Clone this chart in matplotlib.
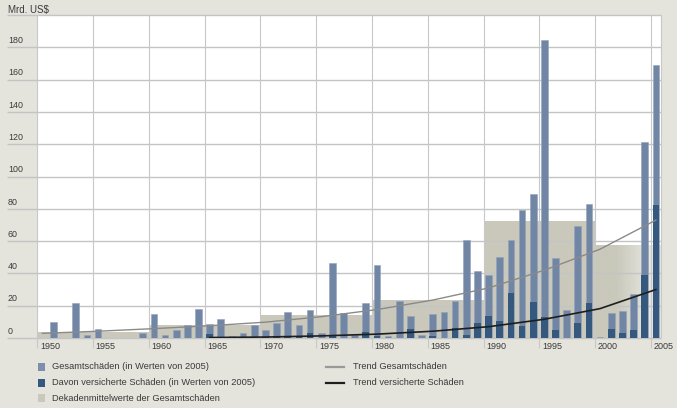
import numpy as np
import matplotlib.pyplot as plt
from matplotlib.patches import Rectangle
from matplotlib.lines import Line2D

plt.rcParams['font.family'] = ['Liberation Sans', 'DejaVu Sans']

# Daten (Mrd. US$, in Werten von 2005)
jahre = list(range(1950, 2006))
gesamt = [0, 10.1, 0, 21.9, 2.1, 5.4, 0, 0, 0, 3.3,
          14.9, 2.1, 4.8, 7.9, 18.0, 8.7, 11.6, 1.4, 3.3, 7.9,
          5.0, 9.3, 16.4, 8.1, 17.4, 2.9, 46.4, 15.3, 1.7, 21.9,
          45.5, 1.2, 23.2, 13.5, 2.1, 14.9, 16.1, 23.0, 60.4, 41.6,
          39.1, 50.3, 60.9, 79.5, 89.4, 184.5, 49.5, 17.6, 69.1, 83.0,
          0.8, 15.7, 16.8, 27.5, 121.3, 169.0]
versichert = [0, 0, 0, 0, 0, 0, 0, 0, 0, 0,
              0, 0, 0, 0, 0, 2.7, 0.5, 0, 0, 0,
              0.5, 0.5, 0.5, 0.5, 2.9, 0, 1.0, 0, 0, 3.9,
              1.0, 0, 0, 5.4, 0, 1.5, 0, 6.0, 1.9, 9.3,
              13.5, 10.8, 27.7, 7.6, 22.6, 13.3, 4.8, 0, 9.1, 21.7,
              0.3, 5.8, 3.1, 5.2, 39.1, 82.2]

dekaden = [1950, 1960, 1970, 1980, 1990]
dekaden_mittel = [3.9, 7.8, 14.3, 23.6, 72.4]
mittel_2000 = 57.1

trend_jahre = [1950, 1955, 1960, 1965, 1970, 1975, 1980, 1985, 1990, 1995, 2000, 2005]
trend_gesamt = [2.9, 4.2, 5.8, 7.6, 9.8, 13.2, 17.6, 23.5, 31.0, 42.0, 55.0, 73.0]
trend_vers_jahre = [1965, 1970, 1975, 1980, 1985, 1990, 1995, 2000, 2005]
trend_vers = [0.3, 0.6, 1.3, 2.4, 4.2, 7.0, 11.6, 18.2, 30.0]

y_ticks = [0, 20, 40, 60, 80, 100, 120, 140, 160, 180]
x_ticks = list(range(1950, 2006, 5))

hintergrund = "#e4e3dc"
hell = "#7186a5"
dunkel = "#34587e"
band = "#c9c8bb"
text_farbe = "#3a3a3a"
raster = "#c4c4c4"

W, H = 677, 408


def px(x, y):
    return x / W, 1 - y / H


fig = plt.figure(figsize=(W / 100, H / 100), dpi=100, facecolor=hintergrund)
ax = fig.add_axes([37.3 / W, 1 - 338 / H, (661 - 37.3) / W, (338 - 15) / H])
ax.set_facecolor("white")
x0, x1 = 1950.0, 2005.91
ax.set_xlim(x0, x1)
ax.set_ylim(0, 200)
for s in ax.spines.values():
    s.set_visible(False)
ax.set_xticks([])
ax.set_yticks([])

off = 0.45
pos = np.array(jahre) + off

# Dekadenmittel
ax.bar(dekaden, dekaden_mittel, width=10, align='edge', color=band, zorder=1, linewidth=0)
# 2000er mit Verlauf nach rechts
verlauf_x = np.linspace(2000, x1, 200)
c0 = np.array([0xc9, 0xc8, 0xbb]) / 255
c1 = np.array([0xe6, 0xe5, 0xdf]) / 255
t = np.clip((verlauf_x - 2001.9) / (2004.8 - 2001.9), 0, 1)
img = c0[None, :] * (1 - t[:, None]) + c1[None, :] * t[:, None]
ax.imshow(img[None, :, :], extent=[2000, x1, 0, mittel_2000], aspect='auto', zorder=1,
          interpolation='bilinear')
ax.set_xlim(x0, x1)
ax.set_ylim(0, 200)

# Raster
ax.hlines(y_ticks + [200], -0.0486, 1, transform=ax.get_yaxis_transform(),
          colors=raster, linewidth=1.0, clip_on=False, zorder=1.5)
ax.vlines(x_ticks, -6.5, 200, colors="#c8c8c8", linewidth=0.8, clip_on=False, zorder=1.5)
ax.vlines([x1], 0, 200, colors="#c8c8c8", linewidth=0.8, clip_on=False, zorder=1.5)

for v in y_ticks:
    ax.text(-0.047, v + 1.4, str(v), transform=ax.get_yaxis_transform(),
            ha='left', va='bottom', fontsize=6.4, color=text_farbe)
for j in x_ticks:
    ax.text(j + 0.24, -2.3, str(j), ha='left', va='top', fontsize=6.5, color=text_farbe)

# Balken
ax.bar(pos, gesamt, width=0.6, color=hell, edgecolor="#93a3bc", linewidth=0.4, zorder=2)
ax.bar(pos, versichert, width=0.6, color=dunkel, linewidth=0, zorder=2.1)

# Trends
ax.plot(np.array(trend_jahre) + off, trend_gesamt, color="#8a8a8a", linewidth=1.0, zorder=3)
ax.plot(np.array(trend_vers_jahre) + off, trend_vers, color="#1e1e1e", linewidth=1.2, zorder=3)

fig.text(*px(8, 10), "Mrd. US$", ha='left', va='center', fontsize=7, color=text_farbe)

# Legende
legende_links = [("Gesamtschäden (in Werten von 2005)", "#7d8fad"),
                 ("Davon versicherte Schäden (in Werten von 2005)", dunkel),
                 ("Dekadenmittelwerte der Gesamtschäden", band)]
zeilen_y = [366.7, 382.7, 398.3]
for (txt, col), yy in zip(legende_links, zeilen_y):
    fig.add_artist(Rectangle(px(38, yy + 4), 7 / W, 8 / H, transform=fig.transFigure,
                             facecolor=col, edgecolor='none'))
    fig.text(*px(52, yy), txt, ha='left', va='center', fontsize=6.7, color=text_farbe)

legende_rechts = [("Trend Gesamtschäden", "#9a9a9a"),
                  ("Trend versicherte Schäden", "#1e1e1e")]
for (txt, col), yy in zip(legende_rechts, zeilen_y[:2]):
    a, b = px(326, yy)
    c, _ = px(344, yy)
    fig.add_artist(Line2D([a, c], [b, b], transform=fig.transFigure, color=col, linewidth=1.6))
    fig.text(*px(353, yy), txt, ha='left', va='center', fontsize=6.7, color=text_farbe)

fig.savefig("out.png", dpi=100, facecolor=hintergrund)
